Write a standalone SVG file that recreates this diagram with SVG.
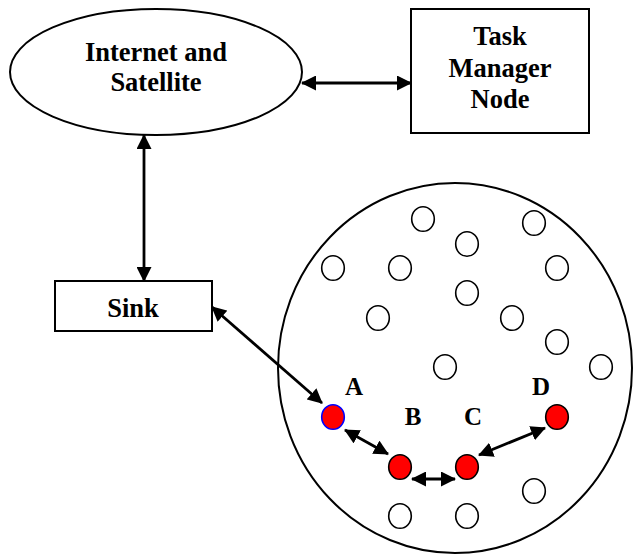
<svg xmlns="http://www.w3.org/2000/svg" width="633" height="554" viewBox="0 0 633 554">
  <style>
    .shape { fill: #fff; stroke: #000; stroke-width: 2; }
    .lbl { font-family: "Liberation Serif", "Times New Roman", serif; font-weight: bold; font-size: 26.5px; fill: #000; text-anchor: middle; }
    .tag { font-family: "Liberation Serif", "Times New Roman", serif; font-weight: bold; font-size: 25px; fill: #000; text-anchor: middle; }
    .sensor { fill: #fff; stroke: #000; stroke-width: 1.6; }
    .active { fill: #ff0000; stroke: #000; stroke-width: 1.6; }
    .conn { stroke: #000; stroke-width: 2.8; fill: none; marker-start: url(#head); marker-end: url(#head); }
  </style>
  <defs>
    <marker id="head" markerUnits="userSpaceOnUse" markerWidth="15" markerHeight="15" refX="14" refY="7.5" orient="auto-start-reverse" viewBox="0 0 15 15">
      <path d="M0,0 L15,7.5 L0,15 Z" fill="#000"/>
    </marker>
  </defs>
  <rect width="633" height="554" fill="#fff"/>

  <g id="internet">
    <ellipse class="shape" cx="156" cy="72" rx="146" ry="63"/>
    <text class="lbl" x="156" y="61">Internet and</text>
    <text class="lbl" x="156" y="91">Satellite</text>
  </g>

  <g id="task-manager">
    <rect class="shape" x="411" y="9" width="178" height="124"/>
    <text class="lbl" x="500" y="45">Task</text>
    <text class="lbl" x="500" y="77">Manager</text>
    <text class="lbl" x="500" y="108">Node</text>
  </g>

  <g id="sink">
    <rect class="shape" x="55" y="281" width="157" height="50"/>
    <text class="lbl" x="133" y="317">Sink</text>
  </g>

  <g id="field">
    <ellipse class="shape" cx="455" cy="368" rx="177" ry="185"/>
    <g id="sensors">
      <ellipse class="sensor" cx="423" cy="219" rx="11.3" ry="12.3"/>
      <ellipse class="sensor" cx="534" cy="223" rx="11.3" ry="12.3"/>
      <ellipse class="sensor" cx="467" cy="244" rx="11.3" ry="12.3"/>
      <ellipse class="sensor" cx="333" cy="268" rx="11.3" ry="12.3"/>
      <ellipse class="sensor" cx="400" cy="268" rx="11.3" ry="12.3"/>
      <ellipse class="sensor" cx="557" cy="268" rx="11.3" ry="12.3"/>
      <ellipse class="sensor" cx="467" cy="293" rx="11.3" ry="12.3"/>
      <ellipse class="sensor" cx="378" cy="318" rx="11.3" ry="12.3"/>
      <ellipse class="sensor" cx="512" cy="318" rx="11.3" ry="12.3"/>
      <ellipse class="sensor" cx="557" cy="342" rx="11.3" ry="12.3"/>
      <ellipse class="sensor" cx="445" cy="367" rx="11.3" ry="12.3"/>
      <ellipse class="sensor" cx="601" cy="367" rx="11.3" ry="12.3"/>
      <ellipse class="sensor" cx="534" cy="491" rx="11.3" ry="12.3"/>
      <ellipse class="sensor" cx="400" cy="516" rx="11.3" ry="12.3"/>
      <ellipse class="sensor" cx="467" cy="516" rx="11.3" ry="12.3"/>
    </g>
  </g>

  <g id="node-a">
    <ellipse class="active" cx="333" cy="417" rx="11.3" ry="12.3" style="stroke:#0000ff"/>
    <text class="tag" x="354" y="395">A</text>
  </g>
  <g id="node-b">
    <ellipse class="active" cx="400" cy="467" rx="11.3" ry="12.3"/>
    <text class="tag" x="413" y="425">B</text>
  </g>
  <g id="node-c">
    <ellipse class="active" cx="467" cy="467" rx="11.3" ry="12.3"/>
    <text class="tag" x="473" y="425">C</text>
  </g>
  <g id="node-d">
    <ellipse class="active" cx="557" cy="417" rx="11.3" ry="12.3"/>
    <text class="tag" x="541" y="395">D</text>
  </g>

  <g id="connectors">
    <line class="conn" x1="302" y1="83" x2="411" y2="83"/>
    <line class="conn" x1="144" y1="135" x2="144" y2="281"/>
    <line class="conn" x1="212" y1="307" x2="322" y2="403"/>
    <line class="conn" x1="345" y1="430" x2="388" y2="454"/>
    <line class="conn" x1="412" y1="479" x2="455" y2="479"/>
    <line class="conn" x1="479" y1="455" x2="545" y2="428"/>
  </g>
</svg>
